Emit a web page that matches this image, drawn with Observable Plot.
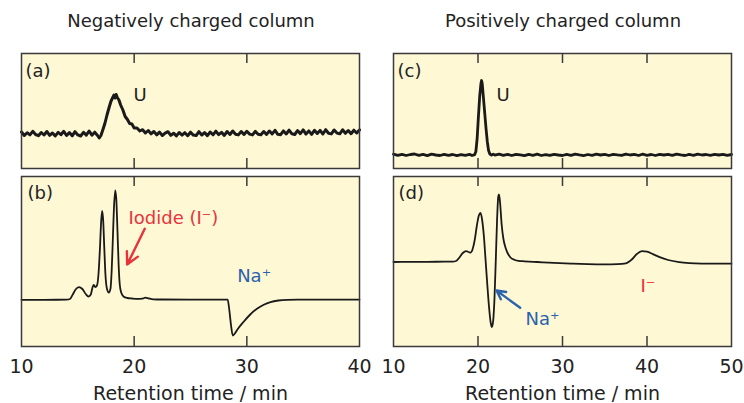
<!DOCTYPE html>
<html><head><meta charset="utf-8">
<script src="https://cdn.jsdelivr.net/npm/d3@7"></script>
<script src="https://cdn.jsdelivr.net/npm/@observablehq/plot@0.6"></script>
<style>
body{margin:0;background:#fff;}
#root{position:relative;width:744px;height:403px;overflow:hidden;font-family:"DejaVu Sans",sans-serif;color:#222;background:#fff;}
.ttl{position:absolute;top:12px;font-size:18px;line-height:18px;white-space:nowrap;transform:translateX(-50%);}
.pan{position:absolute;}
</style></head><body><div id="root"></div>
<script>
// ---- data: [retention time (min), detector signal (a.u.)] ----
const traceA = [
[10,36.5],[10.25,33],[10.5,35.8],[10.75,33.6],[11,37.2],[11.25,34],[11.5,32.8],[11.75,36],[12,33.5],[12.25,37],[12.5,33.2],[12.75,35.5],[13,32.6],[13.25,36.1],[13.5,33.8],[13.75,37.2],[14,33],[14.25,35.9],[14.5,32.7],[14.75,36.8],[15,33.6],[15.25,32.5],[15.5,36.2],[15.75,33.4],[16,37.5],[16.25,33.3],[16.5,36.3],[16.75,33],[16.9,30.5],[17.05,33],[17.2,38],[17.4,45],[17.6,54],[17.8,62],[17.95,67.5],[18.1,71],[18.2,73.5],[18.3,70.5],[18.4,74],[18.5,71],[18.65,68.5],[18.8,63.5],[19,58.5],[19.2,52],[19.4,49],[19.6,45],[19.8,44.5],[20,40.5],[20.25,40.5],[20.5,37.5],[20.75,38.8],[21,35.5],[21.25,38],[21.5,34.6],[21.75,37],[22,33.6],[22.25,36.4],[22.5,33],[22.75,35.4],[23,36.8],[23.25,33.1],[23.5,35.3],[23.75,32.6],[24,36],[24.25,33.3],[24.5,35.8],[24.75,32.8],[25,36.3],[25.25,33.4],[25.5,32.9],[25.75,36.8],[26,33.5],[26.25,35.9],[26.5,32.9],[26.75,36.5],[27,33.7],[27.25,37.3],[27.5,33.9],[27.75,36.1],[28,33.1],[28.25,37],[28.5,34],[28.75,37.5],[29,34.3],[29.25,33.6],[29.5,37],[29.75,34],[30,37.2],[30.25,34.4],[30.5,33.6],[30.75,37.1],[31,34.3],[31.25,33.7],[31.5,37],[31.75,34.1],[32,37.5],[32.25,34.6],[32.5,38.2],[32.75,34.2],[33,33.8],[33.25,37.6],[33.5,34.5],[33.75,38.4],[34,34.7],[34.25,34],[34.5,37.9],[34.75,34.8],[35,38.6],[35.25,34.4],[35.5,37.6],[35.75,34.1],[36,38.2],[36.25,35],[36.5,38.1],[36.75,34.5],[37,38.8],[37.25,35.3],[37.5,34.6],[37.75,38.5],[38,35.4],[38.25,34.7],[38.5,38.7],[38.75,35.2],[39,38],[39.25,34.8],[39.5,38.3],[39.75,35.5],[40,38.6]
];
const traceB = [
[10,46.7],[12,46.7],[14,46.8],[14.3,47.5],[14.55,52],[14.8,57],[15.1,59.3],[15.4,57.5],[15.7,52.5],[15.95,50],[16.15,52],[16.3,59],[16.4,61.5],[16.55,59.5],[16.7,61],[16.85,75],[16.97,100],[17.07,125],[17.16,135.5],[17.25,126],[17.35,98],[17.45,72],[17.6,57],[17.75,54],[17.9,58],[18.0,75],[18.1,105],[18.2,137],[18.32,156],[18.42,146],[18.52,115],[18.62,82],[18.72,62],[18.85,54],[19.05,50],[19.4,48.5],[19.8,48],[20.3,47.6],[20.7,47.8],[21,48.8],[21.3,48],[21.7,47.2],[22.5,47],[25,46.9],[28,46.9],[28.3,46.8],[28.45,36],[28.6,21],[28.75,11],[28.9,12.5],[29.2,17.5],[29.7,24.5],[30.3,32],[30.9,37.8],[31.5,41.8],[32.1,44.4],[32.8,46],[33.6,46.7],[34.5,46.9],[37,46.9],[40,46.9]
];
const traceC = [
[10,14.4],[10.5,13.2],[11,14.2],[11.5,13],[12,14],[12.5,14.5],[13,13.1],[13.5,14.1],[14,12.9],[14.5,14.3],[15,13.5],[15.5,13],[16,14.2],[16.5,13.2],[17,14],[17.5,12.9],[18,13.9],[18.5,13.1],[19,14.1],[19.3,13],[19.6,13.8],[19.75,17],[19.9,30],[20.05,52],[20.2,72],[20.35,85],[20.42,88],[20.5,85],[20.65,70],[20.8,55],[20.95,40],[21.1,27],[21.25,18],[21.4,14.5],[21.6,13.4],[21.8,14.4],[22,13.3],[22.5,14.3],[23,13.1],[23.5,14.1],[24,13],[24.5,14.2],[25,13.6],[25.5,12.9],[26,14.1],[26.5,13.2],[27,14.3],[27.5,13],[28,13.9],[28.5,13.1],[29,14.2],[29.5,13.5],[30,13],[30.5,14.1],[31,13.2],[31.5,14.4],[32,13.6],[32.5,12.9],[33,14],[33.5,13.1],[34,14.3],[34.5,13.5],[35,14.1],[35.5,13],[36,14.2],[36.5,13.6],[37,13.1],[37.5,14.4],[38,13.5],[38.5,14.1],[39,13],[39.5,14.3],[40,13.2],[40.5,14],[41,13],[41.5,14.2],[42,13.5],[42.5,14.1],[43,13.1],[43.5,14.3],[44,13.6],[44.5,13],[45,14.1],[45.5,13.2],[46,14.4],[46.5,13.5],[47,14],[47.5,13.1],[48,14.2],[48.5,13.5],[49,14.1],[49.5,13.2],[50,14]
];
const traceD = [
[10,84.5],[12,84.6],[14,84.7],[16,84.8],[17,84.9],[17.4,85.5],[17.8,89],[18.2,93.5],[18.6,95.3],[18.9,94.5],[19.1,93.8],[19.35,97],[19.6,106],[19.85,120],[20.1,131],[20.3,133.5],[20.5,126],[20.7,110],[20.9,86],[21.1,62],[21.3,40],[21.5,24],[21.65,19.5],[21.8,26],[21.95,48],[22.1,85],[22.25,125],[22.4,150],[22.48,152],[22.6,145],[22.8,122],[23,108],[23.25,99],[23.5,93.5],[23.85,89],[24.3,86.8],[24.8,85.6],[25.5,85.2],[27,84.5],[29,83.6],[31,82.9],[33,82.4],[35,82.2],[36.5,82.4],[37.5,83.2],[38.2,87],[38.8,92.5],[39.4,95.3],[40,94.8],[40.7,92.3],[41.5,89.3],[42.5,86.5],[43.8,84.4],[45,83.4],[46.5,82.9],[48,82.8],[50,82.8]
];
// axes
const ticksLeft = [10, 20, 30, 40];
const ticksRight = [10, 20, 30, 40, 50];
const xTitle = "Retention time / min";
const columnTitles = ["Negatively charged column", "Positively charged column"];
// annotations: [time, signal, text, colour key]
const notesA = [[10.36, 92, "(a)", "ink"], [19.94, 68, "U", "ink"]];
const notesB = [[10.53, 148, "(b)", "ink"], [19.5, 122.5, "Iodide (I\u207B)", "red"], [29.14, 64.3, "Na\u207A", "blue"]];
const notesC = [[10.47, 92, "(c)", "ink"], [22.19, 68, "U", "ink"]];
const notesD = [[10.59, 148, "(d)", "ink"], [25.62, 22, "Na\u207A", "blue"], [39.23, 55, "I\u207B", "red"]];
// arrows: [t1, v1, t2, v2, colour key]
const arrowsB = [[20.94, 117.7, 19.38, 82, "red"]];
const arrowsD = [[24.99, 38.7, 22.19, 56, "blue"]];

const COL = {ink: "#222222", red: "#e8333c", blue: "#2b63ae"};
const BG = "#fef8d4", INK = "#1a1a1a", FRAME = "#3a3a3a", TICK = 10;
const root = document.getElementById("root");

function panel(o) {
  const plotH = o.height - o.mT - o.mB;
  const marks = [
    Plot.frame({fill: BG, stroke: null}),
    Plot.ruleX(o.ticks.slice(1, -1), {x: d => d, stroke: FRAME, strokeWidth: 1.5, insetTop: plotH - TICK}),
    Plot.ruleX(o.ticks.slice(1, -1), {x: d => d, stroke: FRAME, strokeWidth: 1.5, insetBottom: plotH - TICK}),
    Plot.line(o.data, {x: d => d[0], y: d => d[1], stroke: INK, strokeWidth: o.sw, curve: o.curve, strokeLinejoin: "round"}),
    Plot.text(o.notes, {x: d => d[0], y: d => d[1], text: d => d[2], fill: d => COL[d[3]], textAnchor: "start", lineAnchor: "bottom", fontSize: 18}),
    Plot.arrow(o.arrows || [], {x1: d => d[0], y1: d => d[1], x2: d => d[2], y2: d => d[3], stroke: d => COL[d[4]], strokeWidth: 2.4, headLength: 9, headAngle: 55}),
    Plot.frame({stroke: FRAME, strokeWidth: 1.5})
  ];
  if (o.axis) marks.push(Plot.axisX(o.ticks, {anchor: "bottom", tickSize: 0, tickPadding: 13, fontSize: 19, label: xTitle, labelAnchor: "center", labelOffset: 53, labelArrow: "none"}));
  const svg = Plot.plot({
    width: o.width, height: o.height,
    marginLeft: o.mL, marginRight: o.mR, marginTop: o.mT, marginBottom: o.mB,
    x: {domain: [o.ticks[0], o.ticks[o.ticks.length - 1]], ...(o.axis ? {} : {axis: null})},
    y: {domain: o.yDomain, axis: null},
    color: {type: "identity"},
    style: {fontFamily: "DejaVu Sans, sans-serif", fontSize: "18px", color: "#222", background: "transparent", overflow: "visible"},
    marks
  });
  svg.classList.add("pan");
  svg.style.left = o.left + "px";
  svg.style.top = o.top + "px";
  root.appendChild(svg);
}

panel({data: traceA, ticks: ticksLeft, yDomain: [0, 115], left: 0, top: 0, width: 372, height: 170, mL: 21, mR: 13, mT: 53, mB: 2, sw: 3, curve: "linear", notes: notesA});
panel({data: traceB, ticks: ticksLeft, yDomain: [0, 170], left: 0, top: 170, width: 372, height: 233, mL: 21, mR: 13, mT: 6, mB: 57, sw: 1.8, curve: "monotone-x", notes: notesB, arrows: arrowsB, axis: true});
panel({data: traceC, ticks: ticksRight, yDomain: [0, 115], left: 372, top: 0, width: 372, height: 170, mL: 21, mR: 13, mT: 53, mB: 2, sw: 2.8, curve: "linear", notes: notesC});
panel({data: traceD, ticks: ticksRight, yDomain: [0, 170], left: 372, top: 170, width: 372, height: 233, mL: 21, mR: 13, mT: 6, mB: 57, sw: 1.8, curve: "monotone-x", notes: notesD, arrows: arrowsD, axis: true});

columnTitles.forEach((t, i) => {
  const d = document.createElement("div");
  d.className = "ttl";
  d.textContent = t;
  d.style.left = (i === 0 ? 191 : 563) + "px";
  root.appendChild(d);
});
</script></body></html>
